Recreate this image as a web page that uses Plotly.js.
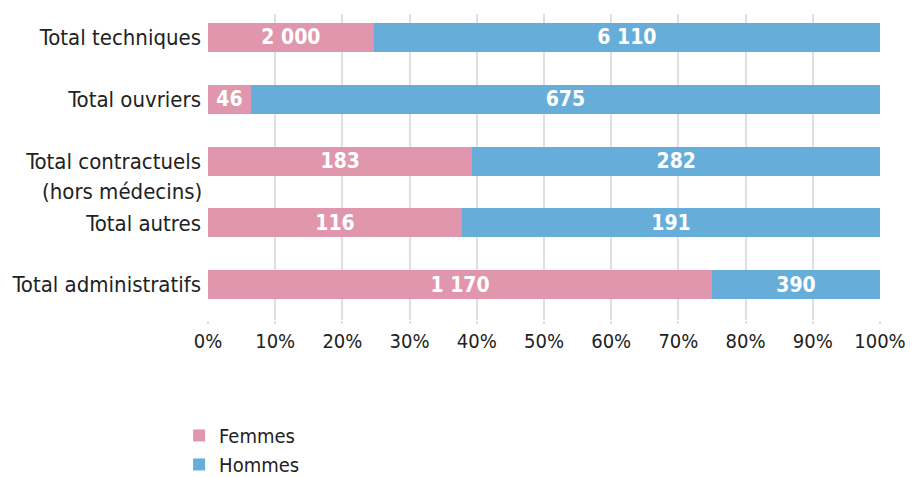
<!DOCTYPE html>
<html>
<head>
<meta charset="utf-8">
<script src="https://cdn.plot.ly/plotly-3.0.1.min.js"></script>
<style>
html,body{margin:0;padding:0;background:#fff;}
#chart{width:914px;height:477px;}
</style>
</head>
<body>
<div id="chart"></div>
<script>
var categories = ["Total techniques", "Total ouvriers", "Total contractuels", "Total autres", "Total administratifs"];
var categoryNotes = ["", "", "(hors médecins)", "", ""];
var femmes = [2000, 46, 183, 116, 1170];
var hommes = [6110, 675, 282, 191, 390];
var xTickVals = [0, 10, 20, 30, 40, 50, 60, 70, 80, 90, 100];
var xTickText = ["0%", "10%", "20%", "30%", "40%", "50%", "60%", "70%", "80%", "90%", "100%"];

function fmt(v) {
  return String(v).replace(/\B(?=(\d{3})+(?!\d))/g, " ");
}

var FONT = "'DejaVu Sans Condensed', 'Liberation Sans Narrow', sans-serif";

var traces = [
  {
    type: "bar", orientation: "h", name: "Femmes",
    y: categories, x: femmes,
    text: femmes.map(fmt), textposition: "inside", insidetextanchor: "middle",
    constraintext: "none",
    textfont: {family: FONT, size: 21, color: "#ffffff", weight: "bold"},
    marker: {color: "#e097ad"},
    hoverinfo: "none"
  },
  {
    type: "bar", orientation: "h", name: "Hommes",
    y: categories, x: hommes,
    text: hommes.map(fmt), textposition: "inside", insidetextanchor: "middle",
    constraintext: "none",
    textfont: {family: FONT, size: 21, color: "#ffffff", weight: "bold"},
    marker: {color: "#66aed9"},
    hoverinfo: "none"
  }
];

var annotations = [];
categoryNotes.forEach(function (note, i) {
  if (note) {
    annotations.push({
      xref: "paper", x: 0, xanchor: "right", xshift: -4,
      yref: "y", y: categories[i], yanchor: "middle", yshift: -30,
      text: note, showarrow: false,
      font: {family: FONT, size: 22, color: "#222222"}
    });
  }
});

var layout = {
  width: 914, height: 477,
  margin: {l: 208, r: 34, t: 14, b: 157, pad: 0},
  barmode: "stack", barnorm: "percent", bargap: 0.53,
  paper_bgcolor: "#ffffff", plot_bgcolor: "#ffffff",
  font: {family: FONT, size: 20, color: "#222222"},
  showlegend: true,
  legend: {
    orientation: "v", xref: "paper", x: -0.043, xanchor: "left",
    yref: "container", y: 0.128, yanchor: "top",
    font: {family: FONT, size: 20, color: "#222222"},
    traceorder: "normal", itemclick: false, tracegroupgap: 0
  },
  annotations: annotations,
  xaxis: {
    range: [0, 100], tickvals: xTickVals, ticktext: xTickText,
    showgrid: true, gridcolor: "#dde0e4", gridwidth: 2,
    zeroline: false, showline: false,
    ticks: "outside", ticklen: 3, tickcolor: "#dde0e4", tickwidth: 2,
    ticklabelstandoff: 0,
    tickfont: {family: FONT, size: 20, color: "#222222"},
    fixedrange: true
  },
  yaxis: {
    type: "category", range: [4.57, -0.38],
    showgrid: false, zeroline: false, showline: false,
    ticks: "", ticklabelstandoff: 6,
    tickfont: {family: FONT, size: 22, color: "#222222"},
    fixedrange: true
  }
};

Plotly.newPlot("chart", traces, layout, {displayModeBar: false, staticPlot: true});
</script>
</body>
</html>
